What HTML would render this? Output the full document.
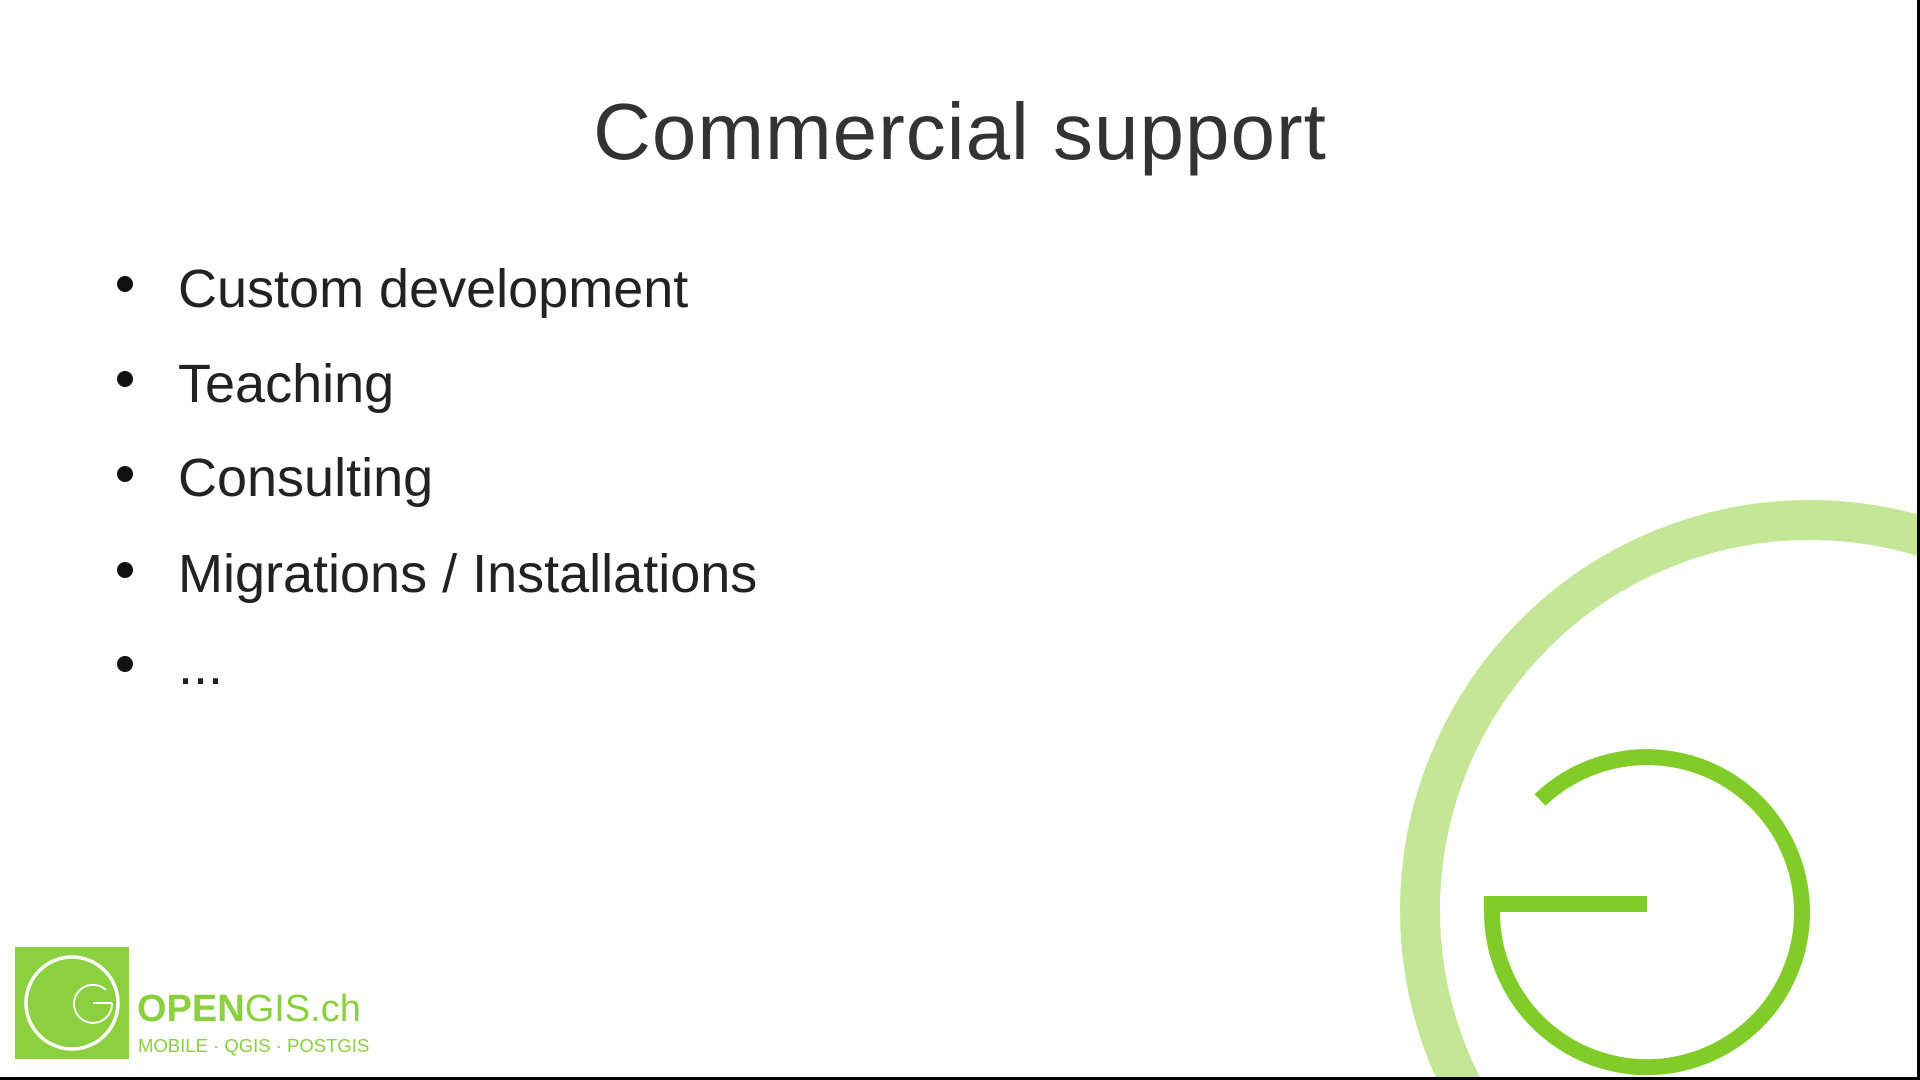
<!DOCTYPE html>
<html><head><meta charset="utf-8"><style>
html,body{margin:0;padding:0;overflow:hidden;width:1920px;height:1080px}
body{position:relative;background:#fff;font-family:"Liberation Sans",sans-serif;color:#333}
svg{display:block;overflow:hidden}
.t{position:absolute;left:0;width:1920px;text-align:center;top:86px;font-size:80px;font-weight:300;letter-spacing:1px;white-space:nowrap}
.b{position:absolute;left:178px;font-size:54px;white-space:nowrap;color:#222}
.d{position:absolute;left:117px;width:16px;height:16px;border-radius:50%;background:#111}
</style></head><body>
<svg width="1920" height="1080" style="position:absolute;left:0;top:0">
<circle cx="1810" cy="910" r="390" fill="none" stroke="#c4e797" stroke-width="40"/>
<path d="M1647 904 H1492 V912 A155 155 0 1 0 1540 800" fill="none" stroke="#82cc2a" stroke-width="16"/>
<rect x="15" y="947" width="114" height="112" fill="#8bd03f"/>
<circle cx="72" cy="1003" r="46" fill="none" stroke="#fff" stroke-width="3.5"/>
<path d="M112 1003 H93 M112 1003 A19 19 0 1 1 106 990" fill="none" stroke="#fff" stroke-width="2"/>
<text x="137" y="1021" font-family="Liberation Sans" font-size="38" fill="#8bd03f"><tspan font-weight="bold">OPEN</tspan>GIS.ch</text>
<text x="138" y="1052" font-family="Liberation Sans" font-size="18.5" fill="#8bd03f">MOBILE · QGIS · POSTGIS</text>
<rect x="0" y="1077" width="1920" height="3" fill="#000"/>
<rect x="1917" y="0" width="3" height="1080" fill="#000"/>
</svg>
<div class="t">Commercial support</div>
<div class="d" style="top:276px"></div><div class="b" style="top:258px">Custom development</div>
<div class="d" style="top:371px"></div><div class="b" style="top:353px">Teaching</div>
<div class="d" style="top:466px"></div><div class="b" style="top:447px">Consulting</div>
<div class="d" style="top:562px"></div><div class="b" style="top:543px">Migrations / Installations</div>
<div class="d" style="top:656px"></div><div class="b" style="top:635px">...</div>
</body></html>
